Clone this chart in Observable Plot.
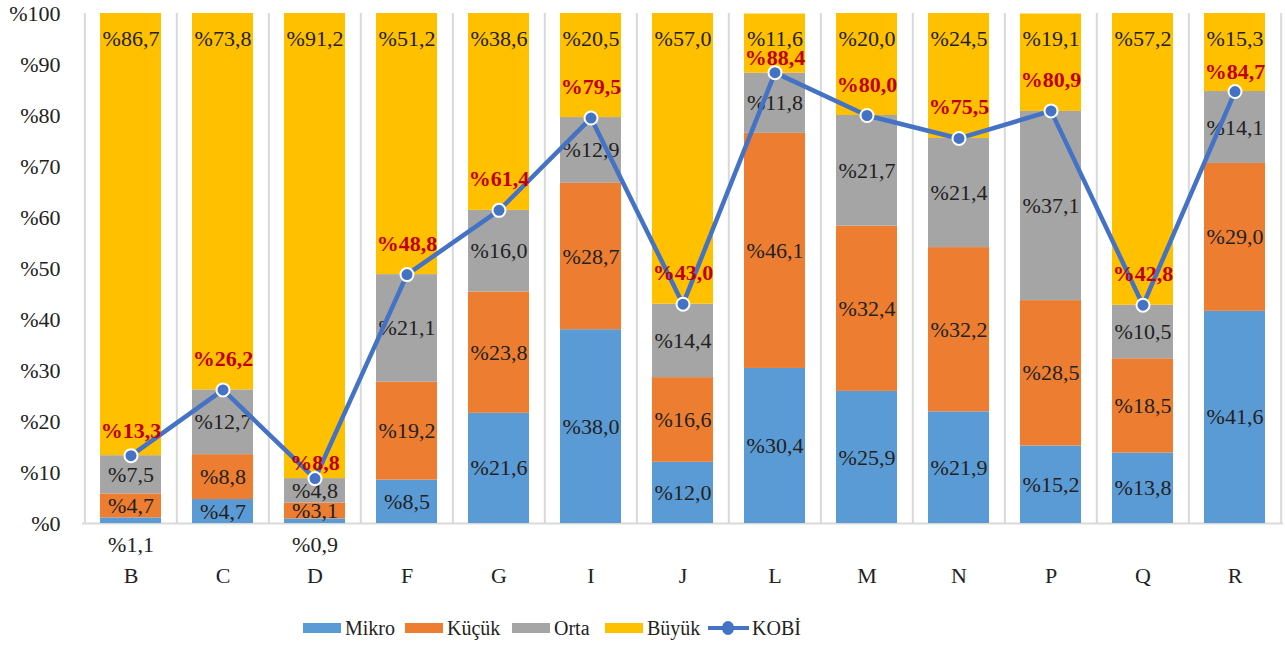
<!DOCTYPE html>
<html>
<head>
<meta charset="utf-8">
<script src="https://cdn.jsdelivr.net/npm/d3@7"></script>
<script src="https://cdn.jsdelivr.net/npm/@observablehq/plot@0.6"></script>
<style>
  html, body { margin: 0; padding: 0; background: #fff; }
  #chart { width: 1285px; height: 590px; }
  .legend { position: relative; width: 1285px; height: 55px; font-size: 20px; color: #222; }
  .legend .item { position: absolute; top: 31px; height: 14px; display: flex; align-items: center; white-space: nowrap; }
  .legend .sw { width: 38px; height: 10px; margin-right: 4px; }
  .legend .ln { position: relative; width: 41px; height: 4px; background: #4472C4; margin-right: 3px; }
  .legend .ln::after { content: ""; position: absolute; left: 14px; top: -5px; width: 12px; height: 14px; border-radius: 50%; background: #4472C4; }
</style>
</head>
<body>
<div id="chart"></div>
<script>
const categories = ["B","C","D","F","G","I","J","L","M","N","P","Q","R"];
const mikro = [1.1, 4.7, 0.9, 8.5, 21.6, 38.0, 12.0, 30.4, 25.9, 21.9, 15.2, 13.8, 41.6];
const kucuk = [4.7, 8.8, 3.1, 19.2, 23.8, 28.7, 16.6, 46.1, 32.4, 32.2, 28.5, 18.5, 29.0];
const orta  = [7.5, 12.7, 4.8, 21.1, 16.0, 12.9, 14.4, 11.8, 21.7, 21.4, 37.1, 10.5, 14.1];
const buyuk = [86.7, 73.8, 91.2, 51.2, 38.6, 20.5, 57.0, 11.6, 20.0, 24.5, 19.1, 57.2, 15.3];
const kobi  = [13.3, 26.2, 8.8, 48.8, 61.4, 79.5, 43.0, 88.4, 80.0, 75.5, 80.9, 42.8, 84.7];
const seriesNames = ["Mikro", "Küçük", "Orta", "Büyük"];
const seriesColors = ["#5B9BD5", "#ED7D31", "#A5A5A5", "#FFC000"];
const yTicks = [0,10,20,30,40,50,60,70,80,90,100];

const FONT = "Liberation Serif";
const fmt = v => "%" + v.toFixed(1).replace(".", ",");
const seriesValues = [mikro, kucuk, orta, buyuk];

const rows = [];
categories.forEach((c, i) => {
  let base = 0;
  seriesValues.forEach((arr, s) => {
    const v = arr[i];
    rows.push({cat: c, series: seriesNames[s], s, v, y1: base, y2: Math.min(100, base + v), mid: base + v / 2});
    base += v;
  });
});
const kobiRows = categories.map((c, i) => ({cat: c, v: kobi[i]}));

const W = 1285, H = 590;
const mL = 82, mR = 2, mT = 13, mB = 67;
const step = (W - mL - mR) / categories.length;

const midLabels = rows.filter(r => (r.s === 1 || r.s === 2) || (r.s === 0 && r.v >= 2));
const lowLabels = rows.filter(r => r.s === 0 && r.v < 2);
const topLabels = rows.filter(r => r.s === 3);

const kobiOffset = v => v > 86 ? -15 : v > 83 ? -20 : v < 10 ? -16 : v < 15 ? -25 : -31;
const offsets = [...new Set(kobiRows.map(d => kobiOffset(d.v)))];
const kobiTextMarks = offsets.map(o =>
  Plot.text(kobiRows.filter(d => kobiOffset(d.v) === o),
    {x: "cat", y: "v", dy: o, text: d => fmt(d.v), fill: "#C00000", fontWeight: "bold", fontSize: 22, fontFamily: FONT}));

const lbl = {fill: "#222", fontSize: 22, fontFamily: FONT};

const chart = Plot.plot({
  width: W, height: H,
  marginLeft: mL, marginRight: mR, marginTop: mT, marginBottom: mB,
  style: {fontFamily: FONT, fontSize: "22px", color: "#222", background: "#fff"},
  x: {domain: categories, paddingInner: 0.34, paddingOuter: 0.17, axis: null},
  y: {domain: [0, 100], axis: null},
  color: {domain: seriesNames, range: seriesColors},
  marks: [
    Plot.ruleX(categories, {x: d => d, dx: -step / 2, y1: 0, y2: 100, stroke: "#d9d9d9", strokeWidth: 2}),
    Plot.ruleX(categories.slice(-1), {x: d => d, dx: step / 2, y1: 0, y2: 100, stroke: "#d9d9d9", strokeWidth: 2}),
    Plot.ruleY([0], {stroke: "#d9d9d9", strokeWidth: 2}),
    Plot.axisY(yTicks, {tickSize: 0, tickPadding: 22, tickFormat: d => "%" + d, label: null, fontSize: 22, fontFamily: FONT, fill: "#222"}),
    Plot.axisX(categories, {tickSize: 0, tickPadding: 44, label: null, fontSize: 22, fontFamily: FONT, fill: "#222"}),
    Plot.barY(rows, {x: "cat", y1: "y1", y2: "y2", fill: "series"}),
    Plot.text(midLabels, {x: "cat", y: "mid", text: d => fmt(d.v), ...lbl}),
    Plot.text(lowLabels, {x: "cat", y: 0, dy: 21, text: d => fmt(d.v), ...lbl}),
    Plot.text(topLabels, {x: "cat", y: 100, dy: 25, text: d => fmt(d.v), ...lbl}),
    Plot.line(kobiRows, {x: "cat", y: "v", stroke: "#4472C4", strokeWidth: 4.5}),
    Plot.dot(kobiRows, {x: "cat", y: "v", r: 6.5, fill: "#4472C4", stroke: "#fff", strokeWidth: 2}),
    ...kobiTextMarks
  ]
});
document.getElementById("chart").appendChild(chart);

// legend
const legendX = [303, 405, 512, 605, 708];
const legend = document.createElement("div");
legend.className = "legend";
legend.style.fontFamily = "'" + FONT + "', serif";
seriesNames.forEach((n, i) => {
  const it = document.createElement("div"); it.className = "item"; it.style.left = legendX[i] + "px";
  const sw = document.createElement("span"); sw.className = "sw"; sw.style.background = seriesColors[i];
  it.appendChild(sw); it.appendChild(document.createTextNode(n));
  legend.appendChild(it);
});
const it = document.createElement("div"); it.className = "item"; it.style.left = legendX[4] + "px";
const ln = document.createElement("span"); ln.className = "ln";
it.appendChild(ln); it.appendChild(document.createTextNode("KOBİ"));
legend.appendChild(it);
document.body.appendChild(legend);
</script>
</body>
</html>
